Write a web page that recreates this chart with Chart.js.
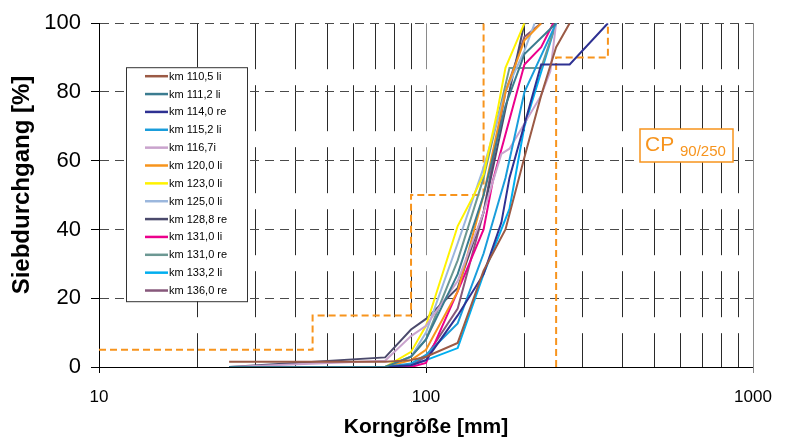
<!DOCTYPE html>
<html>
<head>
<meta charset="utf-8">
<script src="https://cdn.jsdelivr.net/npm/chart.js@4/dist/chart.umd.min.js"></script>
<style>
  html, body { margin: 0; padding: 0; background: #fff; }
  #wrap { width: 786px; height: 438px; position: relative; }
</style>
</head>
<body>
<div id="wrap"><canvas id="c" width="786" height="438"></canvas></div>
<script>
// ---- data ----
const seriesNames = ['km 110,5 li','km 111,2 li','km 114,0 re','km 115,2 li','km 116,7i','km 120,0 li',
  'km 123,0 li','km 125,0 li','km 128,8 re','km 131,0 li','km 131,0 re','km 133,2 li','km 136,0 re'];

const km1105li = [[25,1.5],[75,1.5],[90,2],[100,3],[125,7],[150,28],[175,40],[200,61],[225,79],[250,93],[275,100]];
const km1112li = [[25,0],[75,0],[90,3],[100,8],[125,27],[150,50],[175,76],[200,91],[250,100]];
const km1140re = [[25,0],[75,0],[90,0.5],[100,2],[125,15],[150,27],[170,42],[180,55],[225,88],[275,88],[360,100]];
const km1152li = [[25,0],[75,0],[90,1],[100,3.5],[125,12.7],[150,33],[175,55],[200,80],[250,100]];
const km1167i  = [[25,0],[75,1.8],[90,9],[100,12],[125,25],[150,45],[170,62],[180,63.5],[225,79],[240,86],[250,100]];
const km1200li = [[25,0],[75,0],[90,2],[100,5],[125,22],[150,50],[175,80],[200,95],[225,100]];
const km1230li = [[25,0],[75,0],[90,4.4],[100,12],[125,41],[140,50],[150,56],[165,74],[175,87],[190,95],[200,100]];
const km1250li = [[25,0],[75,0],[90,3],[100,10],[125,36],[150,58],[175,80],[200,92],[215,100]];
const km1288re = [[25,0],[75,2.8],[90,10.9],[100,14],[125,23],[150,45],[175,75],[200,100]];
const km1310li = [[25,0],[75,0],[90,0],[100,1.2],[125,22],[150,40],[160,54],[200,88],[225,93],[245,100]];
const km1310re = [[25,0],[75,0],[90,3],[100,8],[125,31],[150,55],[180,87],[225,87],[250,100]];
const km1332li = [[25,0],[75,0],[90,0.5],[100,2],[125,5.5],[150,27],[170,40],[180,46],[200,70],[250,100]];
const km1360re = [[25,0],[75,0],[90,0.5],[100,3],[125,17],[150,45],[175,80],[200,96],[225,100]];

const seriesData = [km1105li, km1112li, km1140re, km1152li, km1167i, km1200li, km1230li,
  km1250li, km1288re, km1310li, km1310re, km1332li, km1360re];

// CP 90/250 envelope
const cpLower = [[10,5],[45,5],[45,15],[90,15],[90,50],[150,50],[150,100]];
const cpUpper = [[250,0],[250,90],[360,90],[360,100]];

const xTickValues = [10,20,30,40,50,60,70,80,90,100,200,300,400,500,600,700,800,900,1000];
const xLabeledTicks = [10,100,1000];
const yTickValues = [0,20,40,60,80,100];

// ---- styles ----
const seriesColors = ['#9b5a45','#3b7c90','#2e3192','#1a9ddb','#c9a3cd','#f7941d','#fff200',
  '#9bb7dd','#4b4a6c','#ec008c','#6c9893','#00aeef','#87587b'];
const cpColor = '#f7941d';
const FONT = "'Liberation Sans', Arial, sans-serif";

const toPts = arr => arr.map(p => ({x: p[0], y: p[1]}));

const datasets = seriesData.map((arr, i) => ({
  label: seriesNames[i],
  data: toPts(arr),
  borderColor: seriesColors[i],
  backgroundColor: seriesColors[i],
  borderWidth: 2,
  pointRadius: 0,
  showLine: true,
  tension: 0,
  fill: false
}));
[cpLower, cpUpper].forEach(arr => datasets.push({
  label: '_cp',
  data: toPts(arr),
  borderColor: cpColor,
  borderWidth: 2,
  borderDash: [7, 4],
  pointRadius: 0,
  showLine: true,
  tension: 0,
  fill: false
}));

const decorPlugin = {
  id: 'decor',
  afterDatasetsDraw(chart) {
    const {ctx, chartArea: a, scales} = chart;
    ctx.save();
    // right frame line at 1000
    const xr = Math.round(scales.x.getPixelForValue(1000)) + 0.5;
    ctx.strokeStyle = '#8a8a8a';
    ctx.lineWidth = 1;
    ctx.beginPath(); ctx.moveTo(xr, a.top); ctx.lineTo(xr, a.bottom + 6); ctx.stroke();

    // legend box
    const lx = a.left + 27, ly = a.top + 44, lw = 121, lh = 234;
    ctx.fillStyle = '#fff';
    ctx.fillRect(lx, ly, lw, lh);
    ctx.strokeStyle = '#333';
    ctx.lineWidth = 1;
    ctx.strokeRect(lx + 0.5, ly + 0.5, lw, lh);
    ctx.font = '11px ' + FONT;
    ctx.textBaseline = 'middle';
    ctx.textAlign = 'left';
    chart.data.datasets.forEach((ds, i) => {
      if (ds.label === '_cp') return;
      const yy = ly + 9 + i * 17.86;
      ctx.strokeStyle = ds.borderColor;
      ctx.lineWidth = 2.5;
      ctx.beginPath(); ctx.moveTo(lx + 19, yy); ctx.lineTo(lx + 42, yy); ctx.stroke();
      ctx.fillStyle = '#000';
      ctx.fillText(ds.label, lx + 43, yy + 0.5);
    });

    // CP label box
    const bx = 640, by = 129, bw = 93, bh = 33;
    ctx.fillStyle = '#fff';
    ctx.fillRect(bx, by, bw, bh);
    ctx.strokeStyle = cpColor;
    ctx.lineWidth = 1.5;
    ctx.strokeRect(bx, by, bw, bh);
    ctx.fillStyle = cpColor;
    ctx.textBaseline = 'alphabetic';
    ctx.font = '21px ' + FONT;
    ctx.fillText('CP', bx + 5, by + 22);
    ctx.font = '15px ' + FONT;
    ctx.fillText('90/250', bx + 40, by + 27);
    ctx.restore();
  },
  afterDraw(chart) {
    // y-axis title
    const {ctx} = chart;
    ctx.save();
    ctx.translate(22, 185);
    ctx.rotate(-Math.PI / 2);
    ctx.textAlign = 'center';
    ctx.textBaseline = 'middle';
    ctx.fillStyle = '#000';
    ctx.font = 'bold 24px ' + FONT;
    ctx.fillText('Siebdurchgang [%]', 0, 0);
    ctx.restore();
  }
};

new Chart(document.getElementById('c'), {
  type: 'scatter',
  data: { datasets },
  options: {
    responsive: false,
    animation: false,
    layout: { padding: { top: 20, right: 33, left: 0, bottom: 0 } },
    plugins: { legend: { display: false }, tooltip: { enabled: false } },
    scales: {
      x: {
        type: 'logarithmic',
        min: 10, max: 1000,
        afterBuildTicks: s => { s.ticks = xTickValues.map(v => ({value: v})); },
        afterFit: s => { s.height = 71; },
        ticks: {
          autoSkip: false, maxRotation: 0, color: '#000', padding: 14,
          font: { family: FONT, size: 17 },
          callback: v => xLabeledTicks.includes(v) ? String(v) : ''
        },
        grid: {
          color: c => (c.tick && [10].includes(c.tick.value)) ? '#000' :
                      (c.tick && [100, 1000].includes(c.tick.value)) ? '#8a8a8a' : '#2a2a2a',
          lineWidth: 1,
          tickLength: 6,
          tickColor: c => (c.tick && xLabeledTicks.includes(c.tick.value)) ? '#000' : 'rgba(0,0,0,0)'
        },
        border: { display: true, color: '#000', width: 1, dash: [46, 16] },
        title: {
          display: true, text: 'Korngröße [mm]', color: '#000',
          font: { family: FONT, size: 21, weight: 'bold' },
          padding: { top: 0, bottom: -2 }
        }
      },
      y: {
        min: 0, max: 100,
        afterBuildTicks: s => { s.ticks = yTickValues.map(v => ({value: v})); },
        afterFit: s => { s.width = 99; },
        ticks: {
          color: '#000', padding: 10,
          font: { family: FONT, size: 22 }
        },
        grid: { color: '#4a4a4a', lineWidth: 1, tickLength: 8, tickColor: '#000' },
        border: { display: true, color: '#000', width: 1, dash: [9, 6] },
        title: { display: false }
      }
    }
  },
  plugins: [decorPlugin]
});
</script>
</body>
</html>
